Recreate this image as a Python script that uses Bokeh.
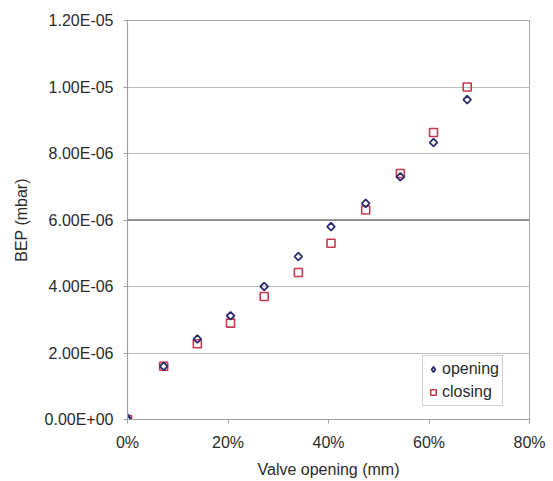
import math
from bokeh.plotting import figure
from bokeh.models import FixedTicker, Range1d, Legend, LegendItem, Span
from bokeh.embed import file_html
from bokeh.resources import INLINE

# ---- data ----
valve_opening = [0.0, 0.072, 0.139, 0.205, 0.272, 0.340, 0.405, 0.474, 0.543, 0.609, 0.676]
bep_opening = [0.0, 1.60e-6, 2.42e-6, 3.12e-6, 4.00e-6, 4.90e-6, 5.80e-6, 6.50e-6, 7.30e-6, 8.33e-6, 9.62e-6]
bep_closing = [0.0, 1.60e-6, 2.28e-6, 2.90e-6, 3.70e-6, 4.42e-6, 5.30e-6, 6.30e-6, 7.40e-6, 8.63e-6, 1.00e-5]

x_ticks = [0.0, 0.2, 0.4, 0.6, 0.8]
x_tick_labels = ["0%", "20%", "40%", "60%", "80%"]
y_ticks = [0.0, 2e-6, 4e-6, 6e-6, 8e-6, 1e-5, 1.2e-5]
y_tick_labels = ["0.00E+00", "2.00E-06", "4.00E-06", "6.00E-06", "8.00E-06", "1.00E-05", "1.20E-05"]

FONT = "Liberation Sans"
TXT = "#2b2b2b"
FS = "16px"
OPEN_COLOR = "#2e2e6e"
CLOSE_COLOR = "#c8394f"

p = figure(width=553, height=481, output_backend="svg", toolbar_location=None,
           x_range=Range1d(0, 0.8), y_range=Range1d(0, 1.2e-5),
           min_border_left=127, min_border_right=24, min_border_top=20, min_border_bottom=62)

p.background_fill_color = "white"
p.border_fill_color = "white"
p.outline_line_color = "#a8a8a8"
p.outline_line_width = 1

# grid
p.xgrid.grid_line_color = None
p.ygrid.ticker = FixedTicker(ticks=y_ticks)
p.ygrid.grid_line_color = "#bdbdbd"
p.ygrid.grid_line_width = 1
p.add_layout(Span(location=y_ticks[3], dimension="width", line_color="#7a7a7a", line_width=1.6))

# axes
p.xaxis.ticker = FixedTicker(ticks=x_ticks)
p.xaxis.major_label_overrides = {t: l for t, l in zip(x_ticks, x_tick_labels)}
p.yaxis.ticker = FixedTicker(ticks=y_ticks)
p.yaxis.major_label_overrides = {t: l for t, l in zip(y_ticks, y_tick_labels)}

for ax in (p.xaxis[0], p.yaxis[0]):
    ax.axis_line_color = "#a0a0a0"
    ax.axis_line_width = 1.2
    ax.major_tick_line_color = "#a0a0a0"
    ax.major_tick_in = 0
    ax.major_tick_out = 4
    ax.minor_tick_line_color = None
    ax.major_label_text_font = FONT
    ax.major_label_text_font_size = FS
    ax.major_label_text_color = TXT
    ax.axis_label_text_font = FONT
    ax.axis_label_text_font_size = FS
    ax.axis_label_text_font_style = "normal"
    ax.axis_label_text_color = TXT

p.xaxis.axis_label = "Valve opening (mm)"
p.yaxis.axis_label = "BEP (mbar)"
p.xaxis.major_label_standoff = 10
p.xaxis.axis_label_standoff = 7
p.yaxis.major_label_standoff = 10
p.yaxis.axis_label_standoff = 12

# glyphs
r_close = p.scatter(valve_opening, bep_closing, marker="square", size=8,
                    line_color=CLOSE_COLOR, line_width=1.6, fill_alpha=0)
r_open = p.scatter(valve_opening, bep_opening, marker="square", size=5.5, angle=math.pi / 4,
                   line_color=OPEN_COLOR, line_width=1.8, fill_alpha=0)
# legend proxy: first "opening" point re-drawn as a diamond so the legend shows a diamond
r_open_leg = p.scatter(valve_opening[:1], bep_opening[:1], marker="diamond", size=11,
                       line_color=OPEN_COLOR, line_width=1.8, fill_alpha=0)

legend = Legend(items=[LegendItem(label="opening", renderers=[r_open_leg]),
                       LegendItem(label="closing", renderers=[r_close])],
                location=(295, 13))
legend.label_text_font = FONT
legend.label_text_font_size = FS
legend.label_text_color = TXT
legend.border_line_color = "#a0a0a0"
legend.border_line_width = 1
legend.background_fill_color = "white"
legend.background_fill_alpha = 1
legend.glyph_width = 14
legend.glyph_height = 14
legend.label_standoff = 2
legend.padding = 3
legend.spacing = 3
legend.margin = 0
legend.label_height = 20
p.add_layout(legend)

open("out.html", "w").write(file_html(p, INLINE))
